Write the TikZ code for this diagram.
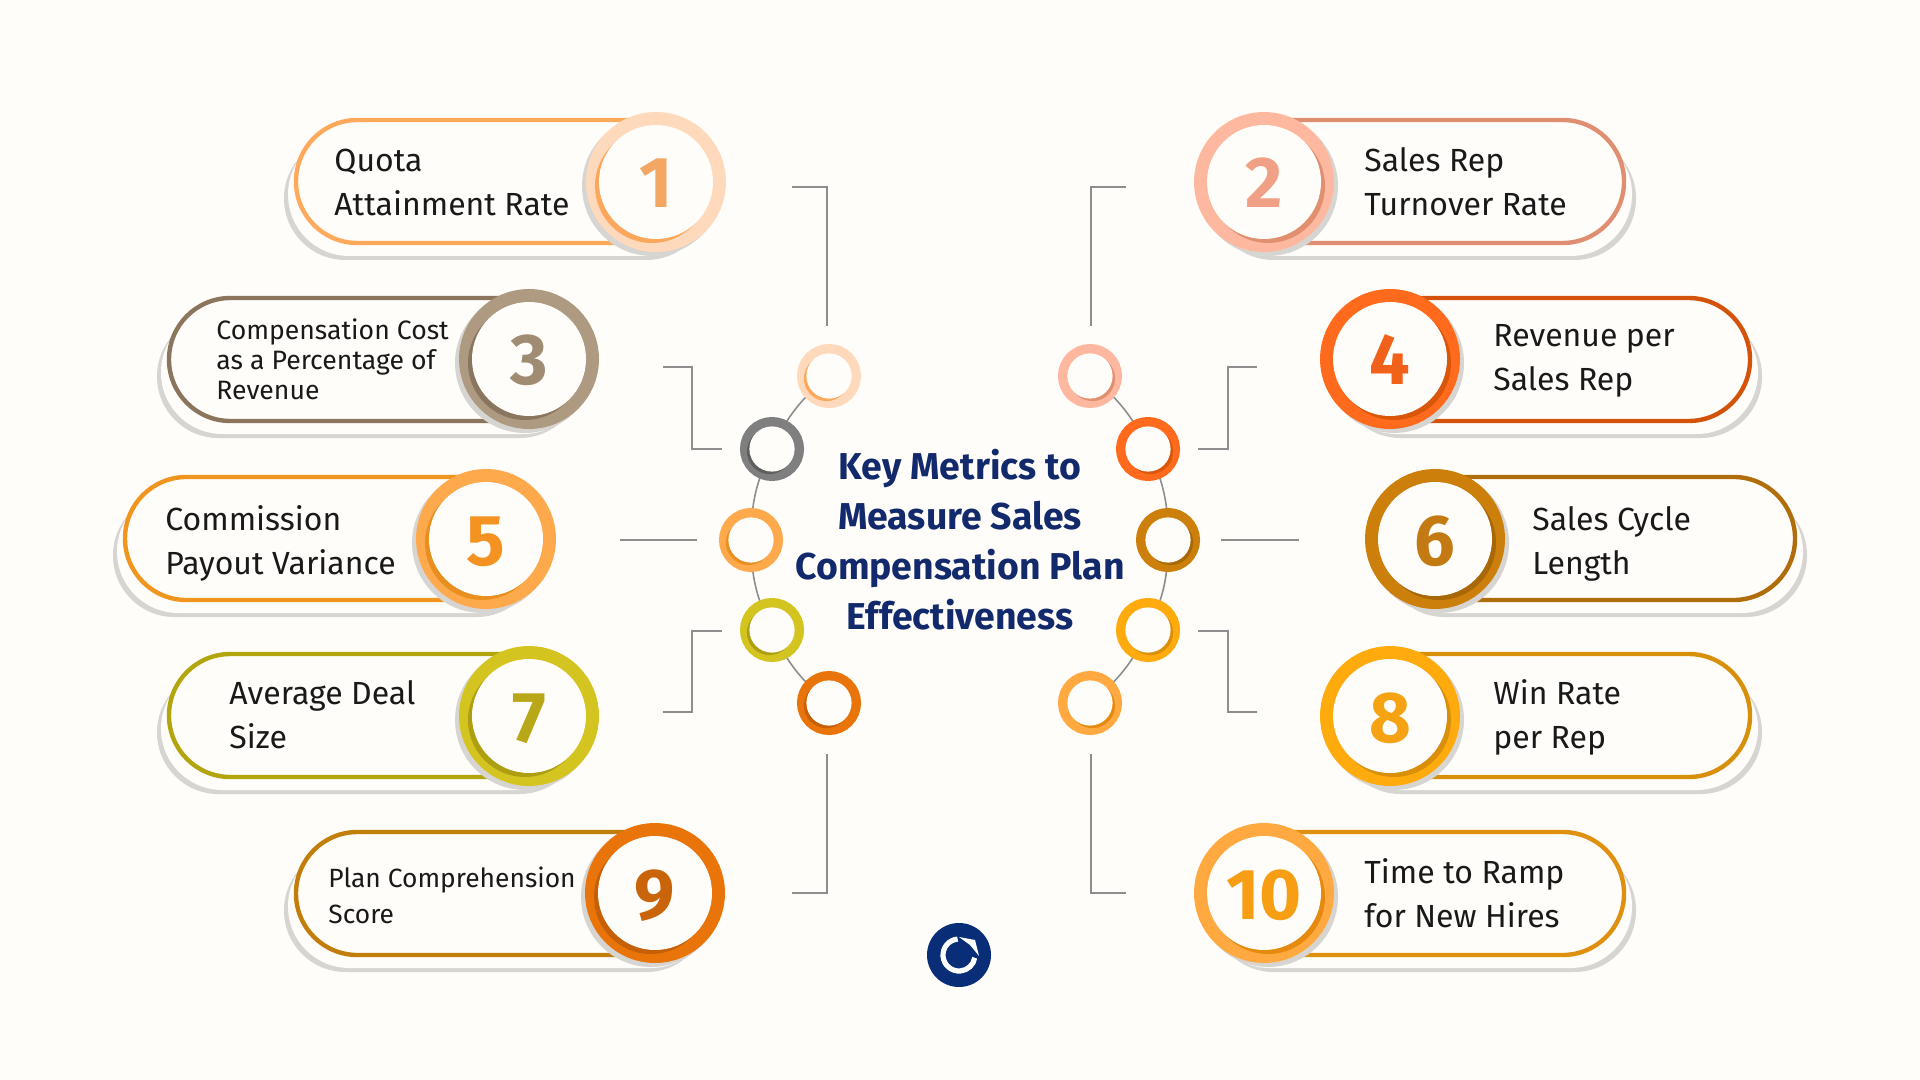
\documentclass[tikz,border=0pt]{standalone}
\usepackage{xcolor}
\usepackage{fontspec}
\setmainfont{Fira Sans}
\usepackage{tikz}

\definecolor{paper}{HTML}{FFFDF9}
\definecolor{shadegray}{HTML}{D6D5D1}
\definecolor{linkgray}{HTML}{8E8E8E}
\definecolor{navy}{HTML}{12296B}
\definecolor{logoblue}{HTML}{0A2D78}
% anello, ombra interna, bordo, cifra
\definecolor{ringa}{HTML}{FFD9BC}\definecolor{deepa}{HTML}{FBA85C}\definecolor{edgea}{HTML}{FFA95C}\definecolor{numa}{HTML}{F4A762}
\definecolor{ringb}{HTML}{FFB8A0}\definecolor{deepb}{HTML}{E0906F}\definecolor{edgeb}{HTML}{DF8E72}\definecolor{numb}{HTML}{F0A084}
\definecolor{ringc}{HTML}{AD9A80}\definecolor{deepc}{HTML}{8A765F}\definecolor{edgec}{HTML}{8B755D}\definecolor{numc}{HTML}{A08C72}
\definecolor{ringd}{HTML}{FF6A1C}\definecolor{deepd}{HTML}{D9560A}\definecolor{edged}{HTML}{D4530A}\definecolor{numd}{HTML}{F2611A}
\definecolor{ringe}{HTML}{FFA94D}\definecolor{deepe}{HTML}{E88F1F}\definecolor{edgee}{HTML}{F0951E}\definecolor{nume}{HTML}{F59322}
\definecolor{ringf}{HTML}{CC7F0A}\definecolor{deepf}{HTML}{A96808}\definecolor{edgef}{HTML}{B06D0B}\definecolor{numf}{HTML}{C47A12}
\definecolor{ringg}{HTML}{D4C41F}\definecolor{deepg}{HTML}{AE9F12}\definecolor{edgeg}{HTML}{B3A50E}\definecolor{numg}{HTML}{B8A716}
\definecolor{ringh}{HTML}{FFAA0D}\definecolor{deeph}{HTML}{D98F0A}\definecolor{edgeh}{HTML}{D8900B}\definecolor{numh}{HTML}{F5A312}
\definecolor{ringi}{HTML}{E8740A}\definecolor{deepi}{HTML}{C65F05}\definecolor{edgei}{HTML}{C27E0A}\definecolor{numi}{HTML}{C9640A}
\definecolor{ringj}{HTML}{FFA940}\definecolor{deepj}{HTML}{E68A0E}\definecolor{edgej}{HTML}{E0900F}\definecolor{numj}{HTML}{F79E14}
\definecolor{dotgray}{HTML}{7F7F7F}\definecolor{dotdeep}{HTML}{5F5F5F}

\tikzset{
  pillL/.style={draw=#1, line width=2.2pt, fill=paper, rounded corners=30.7pt,
    preaction={fill=shadegray, transform canvas={shift={(-12,17)}}},
    preaction={fill=paper, transform canvas={shift={(-8,13)}}}},
  pillR/.style={draw=#1, line width=2.2pt, fill=paper, rounded corners=30.7pt,
    preaction={fill=shadegray, transform canvas={shift={(12,17)}}},
    preaction={fill=paper, transform canvas={shift={(8,13)}}}},
  badge/.style n args={3}{circle, inner sep=0pt, minimum size=57pt, fill=paper,
    text height=26pt, text depth=0pt,
    font=\fontsize{36}{36}\selectfont\bfseries,
    preaction={draw=shadegray, line width=13pt, transform canvas={shift={(#3,4)}}},
    preaction={draw=#1, line width=13pt},
    preaction={fill=#2, transform canvas={shift={(#3,4)}}}},
  dot/.style n args={3}{circle, inner sep=0pt, minimum size=22.6pt, fill=paper,
    preaction={draw=#1, line width=9.4pt},
    preaction={fill=#2, transform canvas={shift={(#3,2.5)}}}},
  label/.style={anchor=west, inner sep=0pt, align=left, text=black!90, font=\fontsize{16}{22}\selectfont},
  midlabel/.style={anchor=west, inner sep=0pt, align=left, text=black!90, font=\fontsize{13.2}{18}\selectfont},
  smalllabel/.style={anchor=west, inner sep=0pt, align=left, text=black!90, font=\fontsize{13.3}{15}\selectfont},
  link/.style={draw=linkgray, line width=0.8pt}
}

\begin{document}
\begin{tikzpicture}[x=0.5pt,y=-0.5pt]
\useasboundingbox (0,0) rectangle (1920,1080);
\fill[paper] (0,0) rectangle (1920,1080);

% Metrica 1
\draw[pillL=edgea] (296,120) rectangle (720,243);
\node[badge={ringa}{deepa}{-4}, text=numa] (n1) at (656,182) {1};
\node[label] (t1) at (334,182) {Quota\\Attainment Rate};

% Metrica 2
\draw[pillR=edgeb] (1200,120) rectangle (1624,243);
\node[badge={ringb}{deepb}{4}, text=numb] (n2) at (1264,182) {2};
\node[label] (t2) at (1364,182) {Sales Rep\\Turnover Rate};

% Metrica 3
\draw[pillL=edgec] (169,298) rectangle (593,421);
\node[badge={ringc}{deepc}{-4}, text=numc] (n3) at (529,359) {3};
\node[smalllabel] (t3) at (216,359) {Compensation Cost\\as a Percentage of\\Revenue};

% Metrica 4
\draw[pillR=edged] (1327,298) rectangle (1750,421);
\node[badge={ringd}{deepd}{4}, text=numd] (n4) at (1390,359) {4};
\node[label] (t4) at (1493,361) {Revenue per\\Sales Rep};

% Metrica 5
\draw[pillL=edgee] (125,477) rectangle (550,600);
\node[badge={ringe}{deepe}{-4}, text=nume] (n5) at (486,539) {5};
\node[label] (t5) at (165,543) {Commission\\Payout Variance};

% Metrica 6
\draw[pillR=edgef] (1371,477) rectangle (1795,600);
\node[badge={ringf}{deepf}{4}, text=numf] (n6) at (1435,539) {6};
\node[label] (t6) at (1532,544) {Sales Cycle\\Length};

% Metrica 7
\draw[pillL=edgeg] (169,654) rectangle (593,777);
\node[badge={ringg}{deepg}{-4}, text=numg] (n7) at (529,716) {7};
\node[label] (t7) at (229,715) {Average Deal\\Size};

% Metrica 8
\draw[pillR=edgeh] (1327,654) rectangle (1750,777);
\node[badge={ringh}{deeph}{4}, text=numh] (n8) at (1390,716) {8};
\node[label] (t8) at (1493,717) {Win Rate\\per Rep};

% Metrica 9
\draw[pillL=edgei] (296,832) rectangle (720,955);
\node[badge={ringi}{deepi}{-4}, text=numi] (n9) at (655,893) {9};
\node[midlabel] (t9) at (328,895) {Plan Comprehension\\Score};

% Metrica 10
\draw[pillR=edgej] (1200,832) rectangle (1624,955);
\node[badge={ringj}{deepj}{4}, text=numj] (n10) at (1264,893) {10};
\node[label] (t10) at (1364,893) {Time to Ramp\\for New Hires};

% Anelli centrali
\coordinate (r1) at (829,376);
\coordinate (r2) at (1090,376);
\coordinate (r3) at (772,449);
\coordinate (r4) at (1148,449);
\coordinate (r5) at (751,540);
\coordinate (r6) at (1168,540);
\coordinate (r7) at (772,630);
\coordinate (r8) at (1148,630);
\coordinate (r9) at (829,703);
\coordinate (r10) at (1090,703);

\draw[link] (r1) to[bend right=13] (r3);
\draw[link] (r3) to[bend right=13] (r5);
\draw[link] (r5) to[bend right=13] (r7);
\draw[link] (r7) to[bend right=13] (r9);
\draw[link] (r2) to[bend left=13] (r4);
\draw[link] (r4) to[bend left=13] (r6);
\draw[link] (r6) to[bend left=13] (r8);
\draw[link] (r8) to[bend left=13] (r10);

\node[dot={ringa}{deepa}{-2.5}] (d1) at (r1) {};
\node[dot={ringb}{deepb}{2.5}] (d2) at (r2) {};
\node[dot={dotgray}{dotdeep}{-2.5}] (d3) at (r3) {};
\node[dot={ringd}{deepd}{2.5}] (d4) at (r4) {};
\node[dot={ringe}{deepe}{-2.5}] (d5) at (r5) {};
\node[dot={ringf}{deepf}{2.5}] (d6) at (r6) {};
\node[dot={ringg}{deepg}{-2.5}] (d7) at (r7) {};
\node[dot={ringh}{deeph}{2.5}] (d8) at (r8) {};
\node[dot={ringi}{deepi}{-2.5}] (d9) at (r9) {};
\node[dot={ringj}{deepj}{2.5}] (d10) at (r10) {};

% Squadrette
\coordinate (e1a) at (792,187);
\coordinate (e1b) at (827,326);
\coordinate (e2a) at (1126,187);
\coordinate (e2b) at (1091,326);
\coordinate (e3a) at (663,367);
\coordinate (e3b) at (722,449);
\coordinate (e4a) at (1257,367);
\coordinate (e4b) at (1198,449);
\coordinate (e5a) at (620,540);
\coordinate (e5b) at (697,540);
\coordinate (e6a) at (1299,540);
\coordinate (e6b) at (1221,540);
\coordinate (e7a) at (663,712);
\coordinate (e7b) at (722,631);
\coordinate (e8a) at (1257,712);
\coordinate (e8b) at (1198,631);
\coordinate (e9a) at (792,893);
\coordinate (e9b) at (827,754);
\coordinate (e10a) at (1126,893);
\coordinate (e10b) at (1091,754);

\draw[link] (e1a) -| (e1b);
\draw[link] (e2a) -| (e2b);
\draw[link] (e3a) -- ++(29,0) |- (e3b);
\draw[link] (e4a) -- ++(-29,0) |- (e4b);
\draw[link] (e5a) -- (e5b);
\draw[link] (e6a) -- (e6b);
\draw[link] (e7a) -- ++(29,0) |- (e7b);
\draw[link] (e8a) -- ++(-29,0) |- (e8b);
\draw[link] (e9a) -| (e9b);
\draw[link] (e10a) -| (e10b);

% Titolo
\node[align=center, text=navy, font=\fontsize{18.7}{25}\selectfont\bfseries] (title) at (960,540) {Key Metrics to\\Measure Sales\\Compensation Plan\\Effectiveness};

% Logo
\node[circle, fill=logoblue, minimum size=32pt, inner sep=0pt] (logo) at (959,955) {};
\draw[white, line width=2.6pt] ([shift={(95:8pt)}]logo.center) arc[start angle=95, end angle=350, radius=8pt];
\fill[white] (959,937) -- (975,940) -- (979,956) -- (970,945) -- cycle;

\end{tikzpicture}
\end{document}
